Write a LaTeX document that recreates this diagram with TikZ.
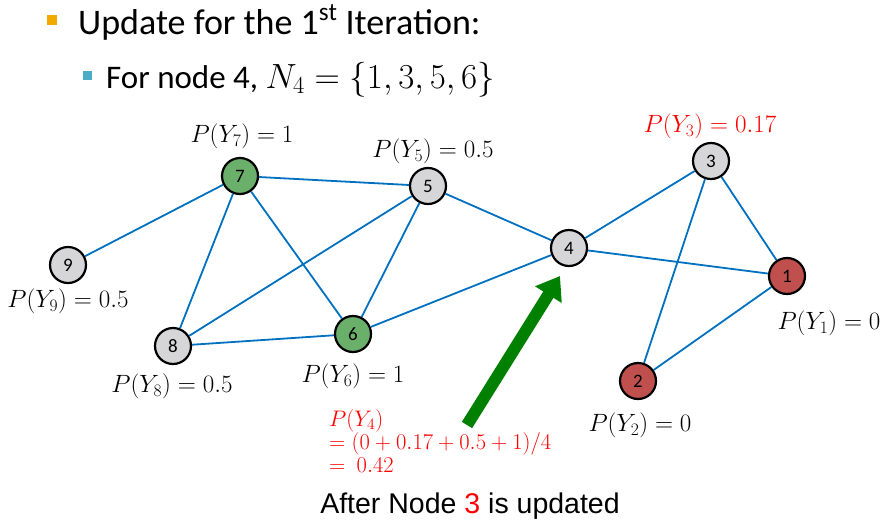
\RequirePackage{fix-cm}
\documentclass[tikz,border=0pt]{standalone}
\usepackage{fontspec}
\setmainfont{Carlito}
\newfontfamily\arialfont{Liberation Sans}
\usetikzlibrary{arrows.meta}
\definecolor{edgeblue}{RGB}{0,112,192}
\definecolor{nodegray}{RGB}{214,214,216}
\definecolor{nodegreen}{RGB}{106,176,106}
\definecolor{nodered}{RGB}{192,80,77}
\definecolor{bulletorange}{RGB}{240,170,0}
\definecolor{bulletblue}{RGB}{75,172,198}
\definecolor{arrowgreen}{RGB}{0,128,0}
\begin{document}
\begin{tikzpicture}[x=1pt,y=-1pt,
  vtx/.style={circle, draw=black, line width=2.2pt, minimum size=36pt, inner sep=0pt, font=\fontsize{19}{21}\selectfont},
  gray/.style={vtx, fill=nodegray},
  green/.style={vtx, fill=nodegreen},
  red/.style={vtx, fill=nodered},
  edge/.style={draw=edgeblue, line width=1.8pt},
  lbl/.style={inner sep=0pt, font=\fontsize{25}{30}\selectfont},
  redlbl/.style={lbl, text=red},
  bullet/.style={inner sep=0pt, minimum size=10pt, draw=none}]
\useasboundingbox (0,0) rectangle (893,522);
% header
\node[bullet, fill=bulletorange] (b1) at (52,20) {};
\node[anchor=base west, inner sep=0pt, font=\fontsize{36}{40}\selectfont] (h1) at (78,34) {Update for the 1\textsuperscript{st} Iteration:};
\node[bullet, fill=bulletblue, minimum size=9pt] (b2) at (87,75) {};
\node[anchor=base west, inner sep=0pt, font=\fontsize{33}{38}\selectfont] (h2) at (106,88) {For node 4, {\fontsize{35}{38}\selectfont$N_4 = \{1, 3, 5, 6\}$}};
% vertices
\node[green] (n7) at (240,176) {7};
\node[gray]  (n5) at (428,186) {5};
\node[gray]  (n9) at (68,265) {9};
\node[gray]  (n8) at (173,346) {8};
\node[green] (n6) at (353,334) {6};
\node[gray]  (n4) at (569,248) {4};
\node[gray]  (n3) at (711,161) {3};
\node[red]   (n1) at (787,276) {1};
\node[red]   (n2) at (638,381) {2};
% edges
\draw[edge] (n7) -- (n5);
\draw[edge] (n7) -- (n9);
\draw[edge] (n7) -- (n8);
\draw[edge] (n7) -- (n6);
\draw[edge] (n5) -- (n8);
\draw[edge] (n5) -- (n6);
\draw[edge] (n5) -- (n4);
\draw[edge] (n8) -- (n6);
\draw[edge] (n6) -- (n4);
\draw[edge] (n4) -- (n3);
\draw[edge] (n4) -- (n1);
\draw[edge] (n3) -- (n1);
\draw[edge] (n3) -- (n2);
\draw[edge] (n1) -- (n2);
% labels
\node[lbl] (l7) at (242,136) {$P(Y_7) = 1$};
\node[lbl] (l5) at (433,151) {$P(Y_5) = 0.5$};
\node[lbl] (l9) at (68,301) {$P(Y_9) = 0.5$};
\node[lbl] (l8) at (172,386) {$P(Y_8) = 0.5$};
\node[lbl] (l6) at (353,376) {$P(Y_6) = 1$};
\node[redlbl] (l3) at (710,126) {$P(Y_3) = 0.17$};
\node[lbl] (l1) at (829,323) {$P(Y_1) = 0$};
\node[lbl] (l2) at (640,425) {$P(Y_2) = 0$};
\node[anchor=north west, inner sep=0pt, align=left, text=red, font=\fontsize{22.5}{23}\selectfont] (calc) at (329,409) {$P(Y_4)$\\$= (0 + 0.17 + 0.5 + 1)/4$\\$=\ 0.42$};
% arrow
\coordinate (as) at (467,425);
\coordinate (ae) at (560,276);
\draw[arrowgreen, line width=12pt, -{Triangle[width=30pt,length=22pt]}] (as) -- (ae);
% caption
\node[inner sep=0pt, font=\arialfont\fontsize{28.5}{32}\selectfont] (cap) at (470,506) {After Node \textcolor{red}{3} is updated};
\end{tikzpicture}
\end{document}
